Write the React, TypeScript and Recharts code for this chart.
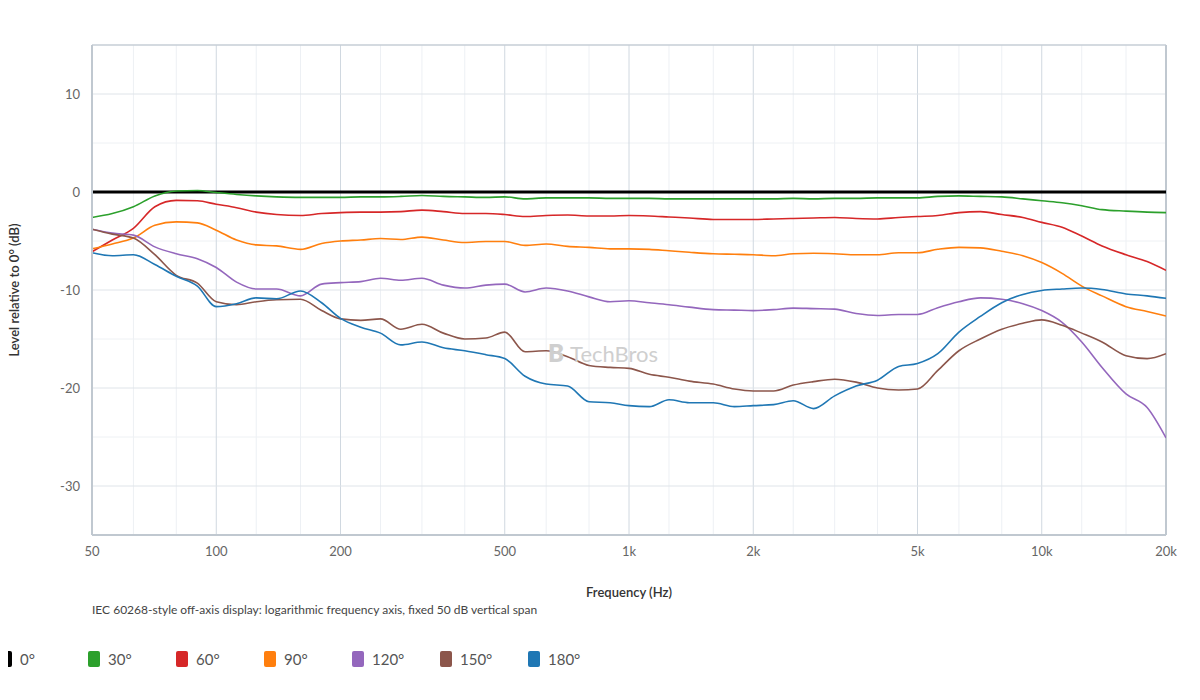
import React from "react";
import { LineChart, Line, XAxis, YAxis, ReferenceLine } from "recharts";

// frequency points (Hz), roughly 1/6 octave
const freqs = [
  50, 56, 63, 71, 80, 90, 100, 112, 125, 140, 160, 180, 200, 224, 250, 280,
  315, 355, 400, 450, 500, 560, 630, 710, 800, 900, 1000, 1120, 1250, 1400,
  1600, 1800, 2000, 2240, 2500, 2800, 3150, 3550, 4000, 4500, 5000, 5600,
  6300, 7100, 8000, 9000, 10000, 11200, 12500, 14000, 16000, 18000, 20000,
];

const deg30 = [
  -2.6, -2.2, -1.5, -0.4, 0.1, 0.15, -0.05, -0.25, -0.4, -0.5, -0.55, -0.55,
  -0.55, -0.5, -0.5, -0.45, -0.35, -0.45, -0.5, -0.55, -0.5, -0.7, -0.6, -0.6,
  -0.6, -0.65, -0.65, -0.65, -0.7, -0.7, -0.7, -0.7, -0.7, -0.7, -0.65, -0.7,
  -0.65, -0.65, -0.6, -0.6, -0.6, -0.45, -0.4, -0.45, -0.5, -0.7, -0.9, -1.1,
  -1.4, -1.8, -1.95, -2.05, -2.1,
];

const deg60 = [
  -6.1, -4.9, -3.7, -1.5, -0.85, -0.9, -1.25, -1.6, -2.05, -2.3, -2.4, -2.2,
  -2.1, -2.05, -2.05, -2.0, -1.85, -2.0, -2.2, -2.2, -2.3, -2.5, -2.4, -2.35,
  -2.45, -2.45, -2.4, -2.45, -2.55, -2.65, -2.8, -2.8, -2.8, -2.75, -2.7, -2.65,
  -2.6, -2.7, -2.75, -2.6, -2.5, -2.4, -2.1, -2.0, -2.3, -2.6, -3.1, -3.6,
  -4.5, -5.5, -6.4, -7.1, -8.0,
];

const deg90 = [
  -5.8, -5.3, -4.7, -3.4, -3.05, -3.15, -3.9, -4.9, -5.4, -5.5, -5.85, -5.25,
  -5.0, -4.9, -4.75, -4.85, -4.6, -4.9, -5.15, -5.05, -5.05, -5.45, -5.3, -5.55,
  -5.65, -5.8, -5.8, -5.85, -6.0, -6.15, -6.3, -6.35, -6.4, -6.5, -6.3, -6.25,
  -6.3, -6.4, -6.4, -6.2, -6.2, -5.85, -5.65, -5.7, -6.05, -6.5, -7.2, -8.3,
  -9.6, -10.6, -11.7, -12.2, -12.65,
];

const deg120 = [
  -3.8, -4.2, -4.4, -5.6, -6.3, -6.8, -7.7, -9.2, -9.9, -9.9, -10.6, -9.4,
  -9.25, -9.15, -8.8, -9.0, -8.8, -9.5, -9.8, -9.5, -9.4, -10.2, -9.8, -10.1,
  -10.7, -11.2, -11.1, -11.3, -11.5, -11.75, -12.0, -12.05, -12.1, -12.0, -11.85,
  -11.9, -11.95, -12.4, -12.6, -12.5, -12.5, -11.8, -11.2, -10.8, -10.95, -11.4,
  -12.1, -13.3, -15.3, -17.9, -20.6, -22.0, -25.1,
];

const deg150 = [
  -3.8, -4.3, -4.7, -6.4, -8.5, -9.3, -11.2, -11.5, -11.2, -11.0, -10.95, -12.1,
  -12.95, -13.1, -12.95, -14.0, -13.5, -14.4, -15.0, -14.9, -14.3, -16.3, -16.2,
  -16.8, -17.7, -17.9, -18.0, -18.6, -18.9, -19.3, -19.6, -20.1, -20.3, -20.3,
  -19.7, -19.35, -19.1, -19.4, -20.0, -20.2, -20.1, -18.2, -16.2, -15.0, -14.0,
  -13.4, -13.05, -13.6, -14.4, -15.3, -16.7, -17.0, -16.5,
];

const deg180 = [
  -6.2, -6.5, -6.4, -7.4, -8.6, -9.6, -11.7, -11.4, -10.8, -10.9, -10.1, -11.3,
  -12.9, -13.8, -14.4, -15.6, -15.3, -15.9, -16.2, -16.6, -17.0, -18.8, -19.6,
  -19.8, -21.4, -21.5, -21.8, -21.9, -21.2, -21.5, -21.5, -21.9, -21.8, -21.7,
  -21.3, -22.1, -20.8, -19.8, -19.2, -17.8, -17.5, -16.5, -14.3, -12.7, -11.3,
  -10.45, -10.05, -9.9, -9.8, -9.95, -10.4, -10.6, -10.85,
];

const freqTicks = [50, 100, 200, 500, 1000, 2000, 5000, 10000, 20000];
const minorFreqs = [
  63, 80, 125, 160, 250, 315, 400, 630, 800, 1250, 1600, 2500, 3150, 4000,
  6300, 8000, 12500, 16000,
];
const levelTicks = [-30, -20, -10, 0, 10];
const minorLevels = [-25, -15, -5, 5];

const series = [
  { key: "d0", name: "0°", color: "#000000", width: 3 },
  { key: "d30", name: "30°", color: "#2ca02c", width: 1.6 },
  { key: "d60", name: "60°", color: "#d62728", width: 1.6 },
  { key: "d90", name: "90°", color: "#ff7f0e", width: 1.6 },
  { key: "d120", name: "120°", color: "#9467bd", width: 1.6 },
  { key: "d150", name: "150°", color: "#8c564b", width: 1.6 },
  { key: "d180", name: "180°", color: "#1f77b4", width: 1.6 },
];

const rows = freqs.map((f, i) => ({
  f,
  d0: 0,
  d30: deg30[i],
  d60: deg60[i],
  d90: deg90[i],
  d120: deg120[i],
  d150: deg150[i],
  d180: deg180[i],
}));

const FONT = "Lato, 'Open Sans', sans-serif";

const fmtFreq = (v: number) => (v >= 1000 ? `${v / 1000}k` : `${v}`);

export default function App() {
  return (
    <div
      style={{
        position: "relative",
        width: 1184,
        height: 692,
        margin: "-8px 0 0 -8px",
        paddingRight: 16,
        overflow: "hidden",
        background: "#fff",
        fontFamily: FONT,
      }}
    >
      <LineChart
        width={1200}
        height={692}
        data={rows}
        margin={{ top: 45, right: 34, bottom: 127, left: 32 }}
      >
        {minorFreqs.map((f) => (
          <ReferenceLine key={"mf" + f} x={f} stroke="#edf0f4" strokeWidth={1} />
        ))}
        {minorLevels.map((v) => (
          <ReferenceLine key={"ml" + v} y={v} stroke="#eef1f4" strokeWidth={1} />
        ))}
        {freqTicks.map((f) => (
          <ReferenceLine key={"f" + f} x={f} stroke="#d0d8e0" strokeWidth={1} />
        ))}
        {levelTicks.map((v) => (
          <ReferenceLine key={"l" + v} y={v} stroke="#dfe4e9" strokeWidth={1} />
        ))}
        <ReferenceLine y={15} stroke="#c6ced6" strokeWidth={1.5} />
        <ReferenceLine x={20000} stroke="#c0c8d0" strokeWidth={2} />
        <XAxis
          dataKey="f"
          type="number"
          scale="log"
          domain={[50, 20000]}
          ticks={freqTicks}
          tickFormatter={fmtFreq}
          allowDataOverflow
          height={30}
          tickLine={false}
          tickSize={0}
          tickMargin={12}
          axisLine={{ stroke: "#c0c8d0", strokeWidth: 2 }}
          tick={{ fill: "#666", fontSize: 13, fontFamily: FONT }}
          label={{
            content: (p: any) => (
              <text
                x={p.viewBox.x + p.viewBox.width / 2}
                y={p.viewBox.y + 62}
                textAnchor="middle"
                fill="#333"
                fontSize={13}
                fontWeight={600}
                fontFamily={FONT}
              >
                Frequency (Hz)
              </text>
            ),
          }}
        />
        <YAxis
          type="number"
          domain={[-35, 15]}
          ticks={levelTicks}
          width={60}
          allowDataOverflow
          tickLine={false}
          tickSize={0}
          tickMargin={12}
          axisLine={{ stroke: "#c0c8d0", strokeWidth: 2 }}
          tick={{ fill: "#666", fontSize: 13, fontFamily: FONT }}
          label={{
            content: (p: any) => {
              const cx = 19;
              const cy = p.viewBox.y + p.viewBox.height / 2;
              return (
                <text
                  x={cx}
                  y={cy}
                  transform={`rotate(-90 ${cx} ${cy})`}
                  textAnchor="middle"
                  fill="#333"
                  fontSize={13}
                  fontWeight={600}
                  fontFamily={FONT}
                >
                  Level relative to 0° (dB)
                </text>
              );
            },
          }}
        />
        {series.map((s) => (
          <Line
            key={s.key}
            dataKey={s.key}
            name={s.name}
            stroke={s.color}
            strokeWidth={s.width}
            type="monotone"
            dot={false}
            activeDot={false}
            isAnimationActive={false}
          />
        ))}
      </LineChart>
      <div
        style={{
          position: "absolute",
          left: 92,
          top: 602,
          fontSize: 12,
          color: "#444",
          whiteSpace: "nowrap",
        }}
      >
        IEC 60268-style off-axis display: logarithmic frequency axis, fixed 50 dB
        vertical span
      </div>
      {series.map((s, i) => (
        <div
          key={s.key}
          style={{
            position: "absolute",
            zIndex: 5,
            left: i * 88,
            top: 650,
            display: "flex",
            alignItems: "center",
          }}
        >
          <svg width={12} height={16} style={{ marginRight: 8, flexShrink: 0 }}>
            <rect width={12} height={16} rx={2} fill={s.color} />
          </svg>
          <span style={{ fontSize: 15, color: "#555" }}>{s.name}</span>
        </div>
      ))}
      <div
        style={{
          position: "absolute",
          left: 548,
          top: 338,
          fontSize: 22,
          color: "#cfcfcf",
          pointerEvents: "none",
          whiteSpace: "nowrap",
        }}
      >
        <span style={{ fontWeight: 800, fontSize: 24, marginRight: 6 }}>B</span>
        TechBros
      </div>
    </div>
  );
}
